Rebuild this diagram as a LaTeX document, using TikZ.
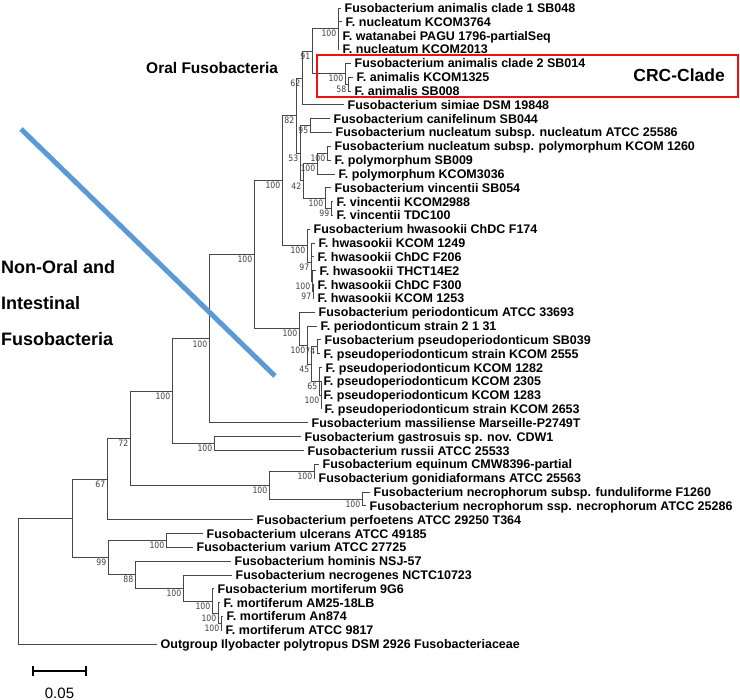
\documentclass[tikz,border=0pt]{standalone}
\usepackage{fontspec}
\setmainfont{Liberation Sans}
\newfontfamily\numfont[FakeStretch=0.88]{DejaVu Sans}
\definecolor{blueln}{HTML}{5B9BD5}
\definecolor{boxred}{HTML}{F01010}
\begin{document}
\begin{tikzpicture}[x=1pt,y=-1pt,
  br/.style={draw=black!72,line width=0.85pt},
  leaf/.style={anchor=base west,inner sep=0pt,xshift=3.5pt,yshift=-4.5pt,font=\fontsize{12.5}{14}\selectfont\bfseries},
  bs/.style={anchor=north east,inner sep=0pt,xshift=-1.5pt,yshift=-1.5pt,font=\numfont\fontsize{8.8}{9.5}\selectfont,text=black!75},
  group/.style={anchor=west,inner sep=0pt,font=\bfseries}]
\useasboundingbox (0,0) rectangle (740,700);
% leaves (tip coordinates)
\coordinate (L1) at (341,8.0);
\coordinate (L2) at (342,21.8);
\coordinate (L3) at (339,35.7);
\coordinate (L4) at (339,49.5);
\coordinate (L5) at (351,63.3);
\coordinate (L6) at (353,77.2);
\coordinate (L7) at (351,91.0);
\coordinate (L8) at (344,104.8);
\coordinate (L9) at (330,118.6);
\coordinate (L10) at (332,132.5);
\coordinate (L11) at (331,146.3);
\coordinate (L12) at (331,160.1);
\coordinate (L13) at (335,174.0);
\coordinate (L14) at (331,187.8);
\coordinate (L15) at (333,201.6);
\coordinate (L16) at (333,215.5);
\coordinate (L17) at (310,229.3);
\coordinate (L18) at (315,243.1);
\coordinate (L19) at (314,256.9);
\coordinate (L20) at (316,270.8);
\coordinate (L21) at (314,284.6);
\coordinate (L22) at (314,298.4);
\coordinate (L23) at (315,312.3);
\coordinate (L24) at (317,326.1);
\coordinate (L25) at (321,339.9);
\coordinate (L26) at (320,353.8);
\coordinate (L27) at (322,367.6);
\coordinate (L28) at (320,381.4);
\coordinate (L29) at (320,395.3);
\coordinate (L30) at (321,409.1);
\coordinate (L31) at (308,422.9);
\coordinate (L32) at (301,436.7);
\coordinate (L33) at (304,450.6);
\coordinate (L34) at (319,464.4);
\coordinate (L35) at (315,478.2);
\coordinate (L36) at (370,492.1);
\coordinate (L37) at (366,505.9);
\coordinate (L38) at (253,519.7);
\coordinate (L39) at (203,533.6);
\coordinate (L40) at (193,547.4);
\coordinate (L41) at (231,561.2);
\coordinate (L42) at (232,575.0);
\coordinate (L43) at (214,588.9);
\coordinate (L44) at (220,602.7);
\coordinate (L45) at (223,616.5);
\coordinate (L46) at (222,630.4);
\coordinate (L47) at (157,644.2);
% internal nodes
\coordinate (C1) at (338,28.75);
\coordinate (C2b) at (348,84.1);
\coordinate (C2) at (345,73.7);
\coordinate (N91) at (312,51.2);
\coordinate (N62) at (302,78.0);
\coordinate (N95) at (310,125.55);
\coordinate (P1) at (327,153.2);
\coordinate (P2) at (317,163.6);
\coordinate (V2) at (331,208.55);
\coordinate (VV) at (325,198.2);
\coordinate (N42) at (303,180.9);
\coordinate (N53) at (300,153.2);
\coordinate (N82) at (296,115.6);
\coordinate (H4) at (313,291.5);
\coordinate (H3) at (312,281.15);
\coordinate (H2) at (311,262.1);
\coordinate (Hw) at (307,245.7);
\coordinate (O1) at (282,180.65);
\coordinate (PS3) at (321,395.25);
\coordinate (PS2) at (319,381.4);
\coordinate (PS1) at (317,346.85);
\coordinate (PD3) at (311,364.1);
\coordinate (PD2) at (307,345.1);
\coordinate (PD) at (299,328.7);
\coordinate (T) at (254,254.7);
\coordinate (U) at (209,338.8);
\coordinate (GR) at (214,443.65);
\coordinate (V) at (172,391.2);
\coordinate (EG) at (314,471.3);
\coordinate (FN) at (362,499.0);
\coordinate (NG) at (269,485.15);
\coordinate (W) at (130,438.2);
\coordinate (Y) at (107,478.95);
\coordinate (M4) at (221,623.45);
\coordinate (M3) at (218,613.1);
\coordinate (M2) at (212,601.0);
\coordinate (M1) at (183,588.0);
\coordinate (N88) at (135,574.6);
\coordinate (UV) at (166,540.5);
\coordinate (Z) at (108,557.55);
\coordinate (X) at (72.7,518.25);
\coordinate (R) at (18,581.2);
% branches
\foreach \p/\c in {C1/L1,C1/L2,C1/L3,C1/L4,C2b/L6,C2b/L7,C2/L5,C2/C2b,N91/C1,N91/C2,N62/N91,N62/L8,
  N95/L9,N95/L10,P1/L11,P1/L12,P2/P1,P2/L13,V2/L15,V2/L16,VV/L14,VV/V2,N42/P2,N42/VV,N53/N95,N53/N42,
  N82/N62,N82/N53,H4/L21,H4/L22,H3/L20,H3/H4,H2/L18,H2/L19,H2/H3,Hw/L17,Hw/H2,O1/N82,O1/Hw,
  PS3/L28,PS3/L29,PS3/L30,PS2/L27,PS2/PS3,PS1/L25,PS1/L26,PD3/PS1,PD3/PS2,PD2/L24,PD2/PD3,PD/L23,PD/PD2,
  T/O1,T/PD,U/T,U/L31,GR/L32,GR/L33,V/U,V/GR,EG/L34,EG/L35,FN/L36,FN/L37,NG/EG,NG/FN,W/V,W/NG,Y/W,Y/L38,
  M4/L45,M4/L46,M3/L44,M3/M4,M2/L43,M2/M3,M1/L42,M1/M2,N88/L41,N88/M1,UV/L39,UV/L40,Z/UV,Z/N88,X/Y,X/Z,R/X,R/L47}
  {\draw[br] (\p) |- (\c);}
% bootstrap values
\foreach \n/\v in {C1/100,C2/100,C2b/58,N91/91,N62/62,N82/82,N95/95,P1/100,P2/100,N53/53,N42/42,VV/100,V2/99,
  O1/100,Hw/100,H2/97,H3/100,H4/97,T/100,PD/100,PD2/100,PS1/74,PD3/45,PS2/65,PS3/100,U/100,V/100,GR/100,W/72,
  EG/100,NG/100,FN/100,Y/67,UV/100,Z/99,N88/88,M1/100,M2/100,M3/100,M4/100}
  {\node[bs] (b\n) at (\n) {\v};}
% leaf names
\node[leaf] (T1) at (L1) {Fusobacterium animalis clade 1 SB048};
\node[leaf] (T2) at (L2) {F. nucleatum KCOM3764};
\node[leaf] (T3) at (L3) {F. watanabei PAGU 1796-partialSeq};
\node[leaf] (T4) at (L4) {F. nucleatum KCOM2013};
\node[leaf] (T5) at (L5) {Fusobacterium animalis clade 2 SB014};
\node[leaf] (T6) at (L6) {F. animalis KCOM1325};
\node[leaf] (T7) at (L7) {F. animalis SB008};
\node[leaf] (T8) at (L8) {Fusobacterium simiae DSM 19848};
\node[leaf] (T9) at (L9) {Fusobacterium canifelinum SB044};
\node[leaf] (T10) at (L10) {Fusobacterium nucleatum subsp. nucleatum ATCC 25586};
\node[leaf] (T11) at (L11) {Fusobacterium nucleatum subsp. polymorphum KCOM 1260};
\node[leaf] (T12) at (L12) {F. polymorphum SB009};
\node[leaf] (T13) at (L13) {F. polymorphum KCOM3036};
\node[leaf] (T14) at (L14) {Fusobacterium vincentii SB054};
\node[leaf] (T15) at (L15) {F. vincentii KCOM2988};
\node[leaf] (T16) at (L16) {F. vincentii TDC100};
\node[leaf] (T17) at (L17) {Fusobacterium hwasookii ChDC F174};
\node[leaf] (T18) at (L18) {F. hwasookii KCOM 1249};
\node[leaf] (T19) at (L19) {F. hwasookii ChDC F206};
\node[leaf] (T20) at (L20) {F. hwasookii THCT14E2};
\node[leaf] (T21) at (L21) {F. hwasookii ChDC F300};
\node[leaf] (T22) at (L22) {F. hwasookii KCOM 1253};
\node[leaf] (T23) at (L23) {Fusobacterium periodonticum ATCC 33693};
\node[leaf] (T24) at (L24) {F. periodonticum strain 2 1 31};
\node[leaf] (T25) at (L25) {Fusobacterium pseudoperiodonticum SB039};
\node[leaf] (T26) at (L26) {F. pseudoperiodonticum strain KCOM 2555};
\node[leaf] (T27) at (L27) {F. pseudoperiodonticum KCOM 1282};
\node[leaf] (T28) at (L28) {F. pseudoperiodonticum KCOM 2305};
\node[leaf] (T29) at (L29) {F. pseudoperiodonticum KCOM 1283};
\node[leaf] (T30) at (L30) {F. pseudoperiodonticum strain KCOM 2653};
\node[leaf] (T31) at (L31) {Fusobacterium massiliense Marseille-P2749T};
\node[leaf] (T32) at (L32) {Fusobacterium gastrosuis sp. nov. CDW1};
\node[leaf] (T33) at (L33) {Fusobacterium russii ATCC 25533};
\node[leaf] (T34) at (L34) {Fusobacterium equinum CMW8396-partial};
\node[leaf] (T35) at (L35) {Fusobacterium gonidiaformans ATCC 25563};
\node[leaf] (T36) at (L36) {Fusobacterium necrophorum subsp. funduliforme F1260};
\node[leaf] (T37) at (L37) {Fusobacterium necrophorum ssp. necrophorum ATCC 25286};
\node[leaf] (T38) at (L38) {Fusobacterium perfoetens ATCC 29250 T364};
\node[leaf] (T39) at (L39) {Fusobacterium ulcerans ATCC 49185};
\node[leaf] (T40) at (L40) {Fusobacterium varium ATCC 27725};
\node[leaf] (T41) at (L41) {Fusobacterium hominis NSJ-57};
\node[leaf] (T42) at (L42) {Fusobacterium necrogenes NCTC10723};
\node[leaf] (T43) at (L43) {Fusobacterium mortiferum 9G6};
\node[leaf] (T44) at (L44) {F. mortiferum AM25-18LB};
\node[leaf] (T45) at (L45) {F. mortiferum An874};
\node[leaf] (T46) at (L46) {F. mortiferum ATCC 9817};
\node[leaf] (T47) at (L47) {Outgroup Ilyobacter polytropus DSM 2926 Fusobacteriaceae};
% CRC clade box
\node[draw=boxred,line width=2.4pt,minimum width=421pt,minimum height=42pt,inner sep=0pt,anchor=north west] (crcbox) at (316,54) {};
\node[anchor=east,inner sep=0pt,font=\fontsize{17.5}{20}\selectfont\bfseries] (crc) at (725,75) {CRC-Clade};
% group labels
\node[group,font=\fontsize{15.5}{18}\selectfont\bfseries] (oral) at (146,68) {Oral Fusobacteria};
\node[group,font=\fontsize{18}{20}\selectfont\bfseries] (nonoral1) at (1,267) {Non-Oral and};
\node[group,font=\fontsize{18}{20}\selectfont\bfseries] (nonoral2) at (1,303) {Intestinal};
\node[group,font=\fontsize{18}{20}\selectfont\bfseries] (nonoral3) at (1,339) {Fusobacteria};
% blue divider
\coordinate (bl1) at (21,129);
\coordinate (bl2) at (275,376);
\draw[blueln,line width=5pt] (bl1) -- (bl2);
% scale bar
\coordinate (sb1) at (33,671);
\coordinate (sb2) at (86,671);
\draw[line width=2.4pt] (sb1) -- (sb2);
\draw[line width=2.2pt] ([yshift=5pt]sb1) -- ([yshift=-5pt]sb1);
\draw[line width=2.2pt] ([yshift=5pt]sb2) -- ([yshift=-5pt]sb2);
\node[inner sep=0pt,font=\fontsize{15}{17}\selectfont] (sbl) at (59.5,693) {0.05};
\end{tikzpicture}
\end{document}
